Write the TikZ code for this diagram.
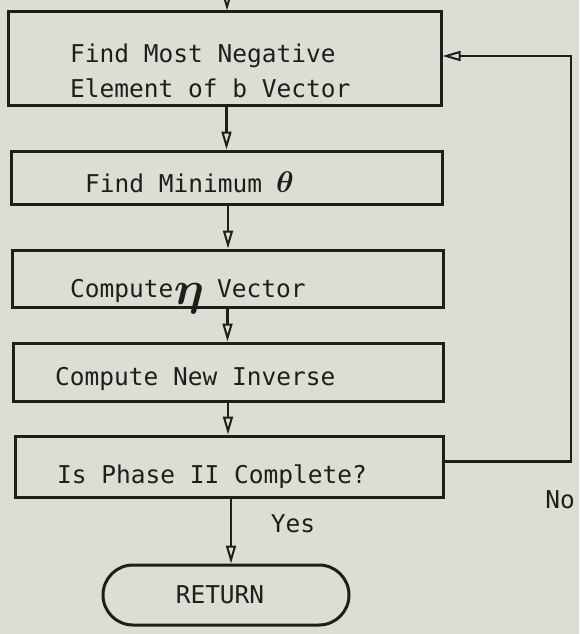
\documentclass[tikz,border=0pt]{standalone}
\usepackage{amsmath}
\usepackage{fontspec}
\usepackage{graphicx}
\setmainfont{DejaVu Sans Mono}
\usepackage{tikz}
\usetikzlibrary{arrows.meta}
\definecolor{paper}{RGB}{221,222,211}
\definecolor{ink}{RGB}{30,30,28}

\begin{document}
\begin{tikzpicture}[x=1pt,y=-1pt,
		box/.style={draw=ink,line width=3pt,rectangle,inner sep=0pt},
		txt/.style={anchor=base west,inner sep=0pt,text=ink,font=\fontsize{24.5}{30}\selectfont},
		flow/.style={draw=ink,line width=2.4pt,-{Triangle[open,length=18pt,width=10pt,line width=2pt]}}]
	\fill[paper] (0,0) rectangle (579,634);
	\useasboundingbox (0,0) rectangle (579,634);
	      \node[box,minimum width=433pt,minimum height=93pt] (b1) at (224.5,58.5) {};
	      \node[box,minimum width=431pt,minimum height=53pt] (b2) at (226.5,177.5) {};
	      \node[box,minimum width=431pt,minimum height=57pt] (b3) at (227.5,278.5) {};
	      \node[box,minimum width=430pt,minimum height=58pt] (b4) at (228,372) {};
	      \node[box,minimum width=428pt,minimum height=61pt] (b5) at (229,466.5) {};
	      \node[box,rounded corners=30pt,minimum width=246pt,minimum height=60pt,text=ink,font=\fontsize{24.5}{30}\selectfont] (ret) at (226,595) {\hspace*{-12pt}RETURN};
				\node[txt] (t1a) at (70,63) {Find Most Negative};
				\node[txt] (t1b) at (70,97) {Element of b Vector};
				\node[txt] (t2) at (85,192) {Find Minimum};
				\node[txt,anchor=base] (theta) at (285,192) {\scalebox{1.2}{$\boldsymbol{\theta}$}};
				\node[txt] (t3a) at (70,297) {Compute};
				\node[txt,anchor=center] (eta) at (189,299) {\scalebox{1.9}{$\boldsymbol{\eta}$}};
				\node[txt] (t3b) at (217,297) {Vector};
				\node[txt] (t4) at (55,385) {Compute New Inverse};
				\node[txt] (t5) at (57,483) {Is Phase II Complete?};
				\node[txt,anchor=base] (yes) at (293,532) {Yes};
				\node[txt,anchor=base] (no) at (560,508) {No};
	      \coordinate (entry) at (227,-10);
	      \coordinate (loopb) at (571,461.5);
	      \draw[flow] (entry) -- (entry |- b1.north);
	      \draw[flow] ([xshift=2pt]b1.south) -- ([xshift=2pt]b1.south |- b2.north);
	      \draw[flow] ([xshift=1.5pt]b2.south) -- ([xshift=1.5pt]b2.south |- b3.north);
	      \draw[flow] (b3.south) -- (b3.south |- b4.north);
	      \draw[flow] (b4.south) -- (b4.south |- b5.north);
	      \draw[flow] ([xshift=2pt]b5.south) -- ([xshift=2pt]b5.south |- ret.north);
	      \draw[flow] ([yshift=5pt]b5.east) -- (loopb) |- ([yshift=2.5pt]b1.east);
\end{tikzpicture}
\end{document}
